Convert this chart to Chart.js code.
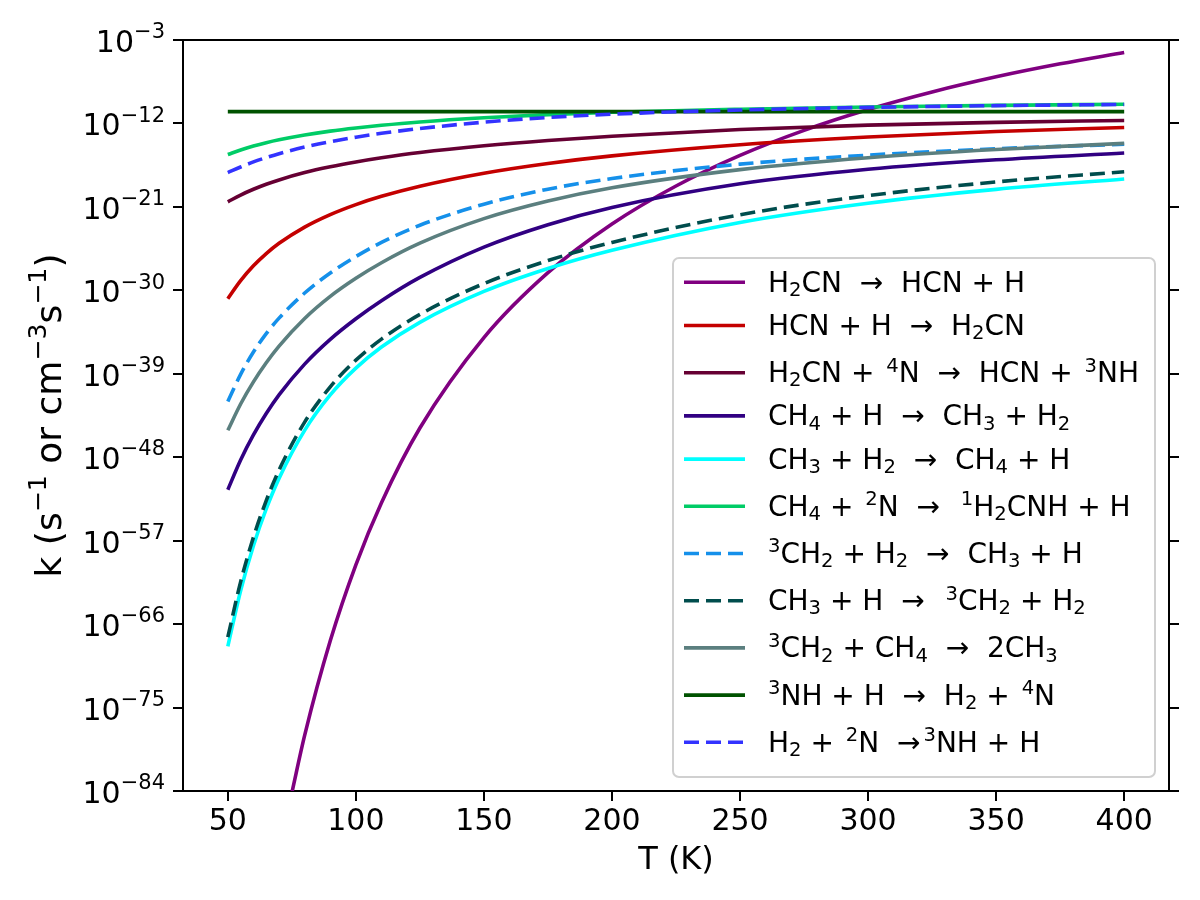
<!DOCTYPE html>
<html>
<head>
<meta charset="utf-8">
<script src="https://cdn.jsdelivr.net/npm/chart.js@4.4.1/dist/chart.umd.min.js"></script>
<style>
  html, body { margin: 0; padding: 0; background: #fff; }
  canvas { display: block; }
</style>
</head>
<body>
<canvas id="myChart" width="1200" height="900"></canvas>
<script>
// Temperatures (K) shared by most curves
var temps = [50, 55, 60, 65, 70, 80, 90, 100, 110, 125, 150, 175, 200, 250, 300, 350, 400];
// H2CN -> HCN + H drops off the bottom of the plot below ~75 K
var tempsH2CN = [75, 80, 90, 100, 110, 125, 150, 175, 200, 225, 250, 275, 300, 325, 350, 375, 400];

// log10(k) values
var kH2CNdiss = [-84.2, -78.0, -67.8, -59.6, -52.9, -44.85, -35.1, -28.1, -22.85, -18.75, -15.45, -12.75, -10.5, -8.6, -6.97, -5.57, -4.34];
var kHCNH     = [-30.9, -28.96, -27.36, -26.04, -24.93, -23.18, -21.83, -20.75, -19.86, -18.77, -17.37, -16.32, -15.5, -14.3, -13.47, -12.87, -12.44];
var kH2CN4N   = [-20.45, -19.72, -19.1, -18.56, -18.09, -17.3, -16.68, -16.16, -15.71, -15.14, -14.41, -13.84, -13.38, -12.66, -12.18, -11.88, -11.68];
var kCH4H     = [-51.5, -48.3, -45.6, -43.29, -41.28, -37.96, -35.29, -33.07, -31.12, -28.61, -25.34, -22.92, -21.06, -18.51, -16.94, -15.92, -15.19];
var kCH3H2    = [-68.4, -62.4, -57.55, -53.58, -50.28, -45.1, -41.28, -38.39, -36.12, -33.45, -30.12, -27.64, -25.68, -22.68, -20.61, -19.11, -17.99];
var kCH4N2    = [-15.35, -14.86, -14.44, -14.08, -13.77, -13.25, -12.83, -12.49, -12.2, -11.84, -11.39, -11.05, -10.8, -10.47, -10.22, -10.05, -9.93];
var kCH2H2    = [-42.0, -39.06, -36.66, -34.67, -33.0, -30.29, -28.13, -26.36, -24.83, -22.98, -20.71, -19.09, -17.94, -16.39, -15.42, -14.73, -14.24];
var kCH3H     = [-67.4, -61.45, -56.63, -52.68, -49.38, -44.22, -40.41, -37.53, -35.26, -32.6, -29.27, -26.79, -24.83, -21.85, -19.79, -18.31, -17.21];
var kCH2CH4   = [-45.1, -42.26, -39.87, -37.81, -36.01, -33.03, -30.65, -28.7, -27.02, -24.91, -22.27, -20.37, -18.94, -16.98, -15.7, -14.81, -14.15];
var kNHH      = [-10.73, -10.73, -10.73, -10.73, -10.73, -10.73, -10.73, -10.73, -10.73, -10.73, -10.73, -10.73, -10.73, -10.73, -10.73, -10.73, -10.73];
var kH2N2     = [-17.3, -16.7, -16.15, -15.68, -15.26, -14.55, -13.97, -13.48, -13.06, -12.55, -11.86, -11.36, -11.0, -10.55, -10.27, -10.08, -9.95];

// Legend labels: _{..} subscript, ^{..} superscript
var labels = [
  'H_{2}CN  →  HCN + H',
  'HCN + H  →  H_{2}CN',
  'H_{2}CN + ^{4}N  →  HCN + ^{3}NH',
  'CH_{4} + H  →  CH_{3} + H_{2}',
  'CH_{3} + H_{2}  →  CH_{4} + H',
  'CH_{4} + ^{2}N  →  ^{1}H_{2}CNH + H',
  '^{3}CH_{2} + H_{2}  →  CH_{3} + H',
  'CH_{3} + H  →  ^{3}CH_{2} + H_{2}',
  '^{3}CH_{2} + CH_{4}  →  2CH_{3}',
  '^{3}NH + H  →  H_{2} + ^{4}N',
  'H_{2} + ^{2}N  →^{3}NH + H'
];

var xTicks = [50, 100, 150, 200, 250, 300, 350, 400];
var yTickExps = [-84, -75, -66, -57, -48, -39, -30, -21, -12, -3];

var series = [
  { t: tempsH2CN, k: kH2CNdiss, color: '#800080', dash: [] },
  { t: temps, k: kHCNH,   color: '#c40000', dash: [] },
  { t: temps, k: kH2CN4N, color: '#660033', dash: [] },
  { t: temps, k: kCH4H,   color: '#310082', dash: [] },
  { t: temps, k: kCH3H2,  color: '#00ffff', dash: [] },
  { t: temps, k: kCH4N2,  color: '#00cc66', dash: [] },
  { t: temps, k: kCH2H2,  color: '#1590ea', dash: [15, 7] },
  { t: temps, k: kCH3H,   color: '#004d4d', dash: [15, 7] },
  { t: temps, k: kCH2CH4, color: '#5b7f7f', dash: [] },
  { t: temps, k: kNHH,    color: '#005200', dash: [] },
  { t: temps, k: kH2N2,   color: '#3333ff', dash: [15, 7] }
];

var FONT = '"DejaVu Sans", sans-serif';

// draw text with simple sub/superscripts
function parseRich(str) {
  var parts = [], re = /([_^])\{([^}]*)\}|([^_^]+)/g, m;
  while ((m = re.exec(str)) !== null) {
    if (m[3]) parts.push({ text: m[3], kind: 'n' });
    else parts.push({ text: m[2], kind: m[1] === '^' ? 'sup' : 'sub' });
  }
  return parts;
}
function drawRich(c, str, x, y, size, align, supShift, supGap) {
  var parts = parseRich(str), small = size * 0.7, w = 0, gap = supGap || 0;
  parts.forEach(function (p, i) {
    c.font = (p.kind === 'n' ? size : small) + 'px ' + FONT;
    w += c.measureText(p.text).width + (p.kind === 'sup' && i > 0 ? gap : 0);
  });
  var cx = align === 'right' ? x - w : (align === 'center' ? x - w / 2 : x);
  c.textAlign = 'left';
  c.textBaseline = 'alphabetic';
  parts.forEach(function (p, i) {
    c.font = (p.kind === 'n' ? size : small) + 'px ' + FONT;
    if (p.kind === 'sup' && i > 0) cx += gap;
    var dy = p.kind === 'sup' ? -size * supShift : (p.kind === 'sub' ? size * 0.15 : 0);
    c.fillText(p.text, cx, y + dy);
    cx += c.measureText(p.text).width;
  });
}

var textPlugin = {
  id: 'texts',
  afterDraw: function (chart) {
    var c = chart.ctx, area = chart.chartArea, ys = chart.scales.y;
    c.save();
    c.fillStyle = '#000';
    // y tick labels as 10^n
    ys.ticks.forEach(function (t) {
      var e = Math.round(Math.log10(t.value));
      var py = ys.getPixelForValue(t.value);
      drawRich(c, '10^{−' + Math.abs(e) + '}', area.left - 18, py + 12, 30, 'right', 0.46);
    });
    // axis titles
    drawRich(c, 'T (K)', (area.left + area.right) / 2, 869, 32, 'center', 0.4);
    c.translate(61, (area.top + area.bottom) / 2);
    c.rotate(-Math.PI / 2);
    drawRich(c, 'k (s^{−1} or cm^{−3}s^{−1})', 0, 0, 36, 'center', 0.42);
    c.restore();

    // legend box
    c.save();
    var bx = 673, by = 258, bw = 482, bh = 519, r = 6;
    c.beginPath();
    c.moveTo(bx + r, by);
    c.arcTo(bx + bw, by, bx + bw, by + bh, r);
    c.arcTo(bx + bw, by + bh, bx, by + bh, r);
    c.arcTo(bx, by + bh, bx, by, r);
    c.arcTo(bx, by, bx + bw, by, r);
    c.closePath();
    c.fillStyle = 'rgba(255,255,255,0.8)';
    c.fill();
    c.strokeStyle = '#d0d0d0';
    c.lineWidth = 2;
    c.stroke();
    var rowY = 282.3;
    chart.data.datasets.forEach(function (ds, i) {
      if (i > 0) rowY += labels[i].indexOf('^') >= 0 ? 47.2 : 43.2;
      c.beginPath();
      c.setLineDash(ds.borderDash || []);
      c.strokeStyle = ds.borderColor;
      c.lineWidth = 3.6;
      c.moveTo(684, rowY);
      c.lineTo(745, rowY);
      c.stroke();
      c.setLineDash([]);
      c.fillStyle = '#000';
      drawRich(c, labels[i], 768, rowY + 9.5, 28, 'left', 0.38, 3);
    });
    c.restore();
  }
};

var datasets = series.map(function (s, i) {
  return {
    label: labels[i],
    data: s.t.map(function (t, j) { return { x: t, y: Math.pow(10, s.k[j]) }; }),
    borderColor: s.color,
    borderDash: s.dash,
    borderWidth: 3.6,
    pointRadius: 0,
    fill: false,
    cubicInterpolationMode: 'monotone',
    order: series.length - i
  };
});

function axisGrid() {
  return { drawOnChartArea: false, drawTicks: true, tickLength: 10, tickWidth: 2, tickColor: '#000', color: '#000', lineWidth: 2 };
}
function setLogTicks(scale) {
  scale.ticks = yTickExps.map(function (e) { return { value: Math.pow(10, e) }; });
}

var ctx = document.getElementById('myChart').getContext('2d');
var myChart = new Chart(ctx, {
  type: 'line',
  data: { datasets: datasets },
  plugins: [textPlugin],
  options: {
    responsive: false,
    animation: false,
    layout: { padding: { top: 40, left: 0, right: 0, bottom: 0 } },
    plugins: { legend: { display: false }, tooltip: { enabled: false } },
    scales: {
      x: {
        type: 'linear', position: 'bottom', min: 32.5, max: 417.5,
        afterBuildTicks: function (s) { s.ticks = xTicks.map(function (v) { return { value: v }; }); },
        afterFit: function (s) { s.height = 109; },
        ticks: { color: '#000', font: { family: FONT, size: 30 }, padding: 3, maxRotation: 0, autoSkip: false },
        grid: axisGrid(),
        border: { display: true, color: '#000', width: 2 }
      },
      x2: {
        type: 'linear', position: 'top', min: 32.5, max: 417.5,
        afterFit: function (s) { s.height = 0; },
        ticks: { display: false },
        grid: { display: false },
        border: { display: true, color: '#000', width: 2 }
      },
      y: {
        type: 'logarithmic', position: 'left', min: 1e-84, max: 1e-3,
        afterBuildTicks: setLogTicks,
        afterFit: function (s) { s.width = 183; },
        ticks: { display: false },
        grid: axisGrid(),
        border: { display: true, color: '#000', width: 2 }
      },
      y2: {
        type: 'logarithmic', position: 'right', min: 1e-84, max: 1e-3,
        afterBuildTicks: setLogTicks,
        afterFit: function (s) { s.width = 31; },
        ticks: { display: false },
        grid: axisGrid(),
        border: { display: true, color: '#000', width: 2 }
      }
    }
  }
});
</script>
</body>
</html>
